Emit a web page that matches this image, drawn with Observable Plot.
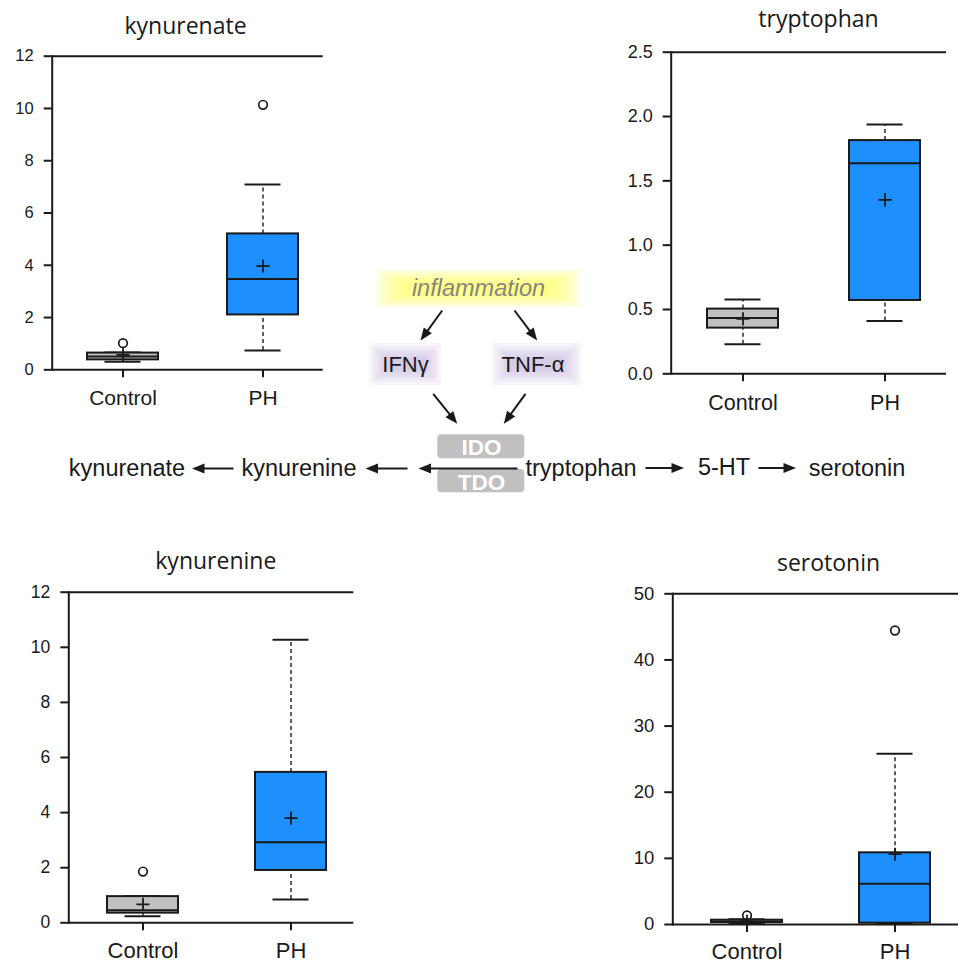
<!DOCTYPE html>
<html>
<head>
<meta charset="utf-8">
<script src="https://cdn.jsdelivr.net/npm/d3@7"></script>
<script src="https://cdn.jsdelivr.net/npm/@observablehq/plot@0.6"></script>
<style>
  body { margin: 0; background: #ffffff; }
  #chart { position: relative; width: 958px; height: 964px; overflow: hidden; background: #ffffff; }
</style>
</head>
<body>
<div id="chart"></div>
<script>
// ---------------- DATA ----------------
const categories = ["Control", "PH"];

// box summaries: whisker ends, quartiles, median, mean (+)
const kynurenateStats = [
  {group: "Control", whiskerLow: 0.31, q1: 0.38, median: 0.51, q3: 0.64, whiskerHigh: 0.66, mean: 0.57},
  {group: "PH",      whiskerLow: 0.74, q1: 2.10, median: 3.47, q3: 5.20, whiskerHigh: 7.09, mean: 3.97}
];
const kynurenateOutliers = [{group: "Control", value: 1.02}, {group: "PH", value: 10.14}];
const kynurenateTicks = [0, 2, 4, 6, 8, 10, 12];

const tryptophanStats = [
  {group: "Control", whiskerLow: 0.23, q1: 0.355, median: 0.433, q3: 0.503, whiskerHigh: 0.578, mean: 0.427},
  {group: "PH",      whiskerLow: 0.41, q1: 0.57,  median: 1.637, q3: 1.813, whiskerHigh: 1.938, mean: 1.352}
];
const tryptophanOutliers = [];
const tryptophanTicks = [0, 0.5, 1.0, 1.5, 2.0, 2.5];

const kynurenineStats = [
  {group: "Control", whiskerLow: 0.24, q1: 0.35, median: 0.46, q3: 0.95, whiskerHigh: 0.96, mean: 0.67},
  {group: "PH",      whiskerLow: 0.85, q1: 1.90, median: 2.92, q3: 5.46, whiskerHigh: 10.27, mean: 3.80}
];
const kynurenineOutliers = [{group: "Control", value: 1.86}];
const kynurenineTicks = [0, 2, 4, 6, 8, 10, 12];

const serotoninStats = [
  {group: "Control", whiskerLow: 0.1, q1: 0.3, median: 0.45, q3: 0.65, whiskerHigh: 0.8, mean: 0.5},
  {group: "PH",      whiskerLow: 0.1, q1: 0.2, median: 6.15, q3: 10.84, whiskerHigh: 25.8, mean: 10.63}
];
const serotoninOutliers = [{group: "Control", value: 1.36}, {group: "PH", value: 44.45}];
const serotoninTicks = [0, 10, 20, 30, 40, 50];

// pathway diagram (labels and their layout)
const pathwayNodes = [
  {label: "kynurenate", x: 126.5, y: 468},
  {label: "kynurenine", x: 298.5, y: 468},
  {label: "tryptophan", x: 580.5, y: 468},
  {label: "5-HT",       x: 723.5, y: 467},
  {label: "serotonin",  x: 856.5, y: 468}
];
const pathwayArrows = [
  {x1: 233, y1: 468, x2: 191.5, y2: 468},
  {x1: 407, y1: 468, x2: 365, y2: 468},
  {x1: 517, y1: 468, x2: 418, y2: 468},
  {x1: 645, y1: 467.5, x2: 683.5, y2: 467.5},
  {x1: 758, y1: 467.5, x2: 795.5, y2: 467.5}
];
const signalArrows = [
  {x1: 441.7, y1: 310, x2: 420, y2: 340},
  {x1: 514, y1: 310, x2: 536.7, y2: 340},
  {x1: 432.7, y1: 393.3, x2: 456.7, y2: 423.3},
  {x1: 525, y1: 393.3, x2: 503.3, y2: 423.3}
];
const trigger = [{label: "inflammation", x: 478, y: 287.5, x1: 376, x2: 580, y1: 270, y2: 307}];
const cytokines = [
  {label: "IFNγ",  x: 405,   y: 364, x1: 369, x2: 442, y1: 343, y2: 385},
  {label: "TNF-α", x: 532.5, y: 364, x1: 492, x2: 581, y1: 343, y2: 385}
];
const enzymes = [
  {label: "IDO", x: 481, y: 447.5, x1: 437.3, x2: 524.3, y1: 434.3, y2: 458.3},
  {label: "TDO", x: 481, y: 482.5, x1: 437.3, x2: 524.3, y1: 469,   y2: 492.3}
];

// ---------------- LAYOUT / STYLE ----------------
const ink = "#1a1a1a";
const boxColors = ["#c0c0c0", "#1e8fff"];
const sans = "'Liberation Sans', Arial, Helvetica, sans-serif";

// page regions for each separate svg (no overlap)
const regions = {
  kynurenate: {left: 0,   top: 0,   width: 345, height: 422},
  tryptophan: {left: 605, top: 0,   width: 353, height: 422},
  kynurenine: {left: 0,   top: 522, width: 380, height: 442},
  serotonin:  {left: 605, top: 522, width: 353, height: 442},
  diagramTop: {left: 345, top: 250, width: 260, height: 178},
  diagramRow: {left: 0,   top: 428, width: 958, height: 94}
};

// page coordinates of frame edges, group centres, titles
const layouts = {
  kynurenate: {left: 51.7, right: 322.7, top: 55.7, bottom: 369.3, ctrl: 122, ph: 262.7, titleX: 185, titleBase: 33.3, tickFont: 16.5, labelFont: 21, labelPad: 12.5},
  tryptophan: {left: 670.7, right: 946, top: 51.7, bottom: 373.3, ctrl: 742, ph: 884.7, titleX: 818, titleBase: 26, tickFont: 18, labelFont: 21.5, labelPad: 12.5},
  kynurenine: {left: 68.3, right: 353.3, top: 591.7, bottom: 922.3, ctrl: 142.3, ph: 290.3, titleX: 215.3, titleBase: 568.3, tickFont: 17.5, labelFont: 22, labelPad: 12},
  serotonin:  {left: 672.3, right: 958, top: 593.3, bottom: 924, ctrl: 746.3, ph: 894.3, titleX: 828, titleBase: 570.7, tickFont: 18.5, labelFont: 22, labelPad: 10.5}
};

function svgStyle(R) {
  return {position: "absolute", left: R.left + "px", top: R.top + "px", background: "transparent",
          overflow: "visible", color: ink, fontFamily: sans, maxWidth: "none"};
}

function boxPanel(title, stats, outliers, ticks, tickFormat, L, R) {
  const boxW = 71;
  const step = L.ph - L.ctrl;
  const yMax = d3.max(ticks);
  const dash = {stroke: ink, strokeWidth: 1.4, strokeDasharray: "4,3"};
  const cap = {stroke: ink, strokeWidth: 2, insetLeft: 17.5, insetRight: 17.5};
  return Plot.plot({
    width: R.width, height: R.height,
    marginLeft: L.left - R.left, marginRight: R.left + R.width - L.right,
    marginTop: L.top - R.top, marginBottom: R.top + R.height - L.bottom,
    style: svgStyle(R),
    x: {type: "band", domain: categories, range: [L.ctrl - R.left - boxW / 2, L.ph - R.left + boxW / 2],
        paddingInner: 1 - boxW / step, paddingOuter: 0, align: 0.5},
    y: {domain: [0, yMax]},
    color: {domain: categories, range: boxColors},
    marks: [
      Plot.ruleX(stats, {x: "group", y1: "whiskerLow", y2: "q1", ...dash}),
      Plot.ruleX(stats, {x: "group", y1: "q3", y2: "whiskerHigh", ...dash}),
      Plot.tickY(stats, {x: "group", y: "whiskerLow", ...cap}),
      Plot.tickY(stats, {x: "group", y: "whiskerHigh", ...cap}),
      Plot.barY(stats, {x: "group", y1: "q1", y2: "q3", fill: "group", stroke: ink, strokeWidth: 2}),
      Plot.tickY(stats, {x: "group", y: "median", stroke: ink, strokeWidth: 2}),
      Plot.dot(stats, {x: "group", y: "mean", symbol: "plus", r: 4.3, stroke: ink, strokeWidth: 1.8}),
      Plot.dot(outliers, {x: "group", y: "value", r: 4.3, stroke: ink, strokeWidth: 1.7, fill: "none"}),
      Plot.ruleY([0, yMax], {stroke: ink, strokeWidth: 2}),
      Plot.frame({anchor: "left", stroke: ink, strokeWidth: 2}),
      Plot.axisY({ticks, tickFormat, tickSize: 8, tickPadding: 10.5, fontSize: L.tickFont, stroke: ink, strokeWidth: 2, label: null}),
      Plot.axisX({tickSize: 8, tickPadding: L.labelPad, fontSize: L.labelFont, stroke: ink, strokeWidth: 2, label: null}),
      Plot.text([title], {frameAnchor: "top-left", dx: L.titleX - L.left, dy: L.titleBase - L.top, textAnchor: "middle", lineAnchor: "bottom",
        fontFamily: "'Open Sans', Lato, sans-serif", fontSize: 23, fill: ink})
    ]
  });
}

// filled arrow head, tip at the origin, pointing up before rotation
const arrowHead = {draw(ctx) { ctx.moveTo(0, 0); ctx.lineTo(5, 12.5); ctx.lineTo(-5, 12.5); ctx.closePath(); }};
const headAngle = (d) => Math.atan2(d.x2 - d.x1, -(d.y2 - d.y1)) * 180 / Math.PI;
const shaftEnd = (d, k) => {
  const len = Math.hypot(d.x2 - d.x1, d.y2 - d.y1);
  return k === "x" ? d.x2 - (d.x2 - d.x1) / len * 10 : d.y2 - (d.y2 - d.y1) / len * 10;
};

function glow(data, color, layers, hStep, vStep, opacity) {
  return d3.range(layers).map((k) => Plot.rect(data, {
    x1: "x1", x2: "x2", y1: "y1", y2: "y2",
    insetLeft: k * hStep, insetRight: k * hStep, insetTop: k * vStep, insetBottom: k * vStep,
    fill: color, fillOpacity: opacity
  }));
}

// the diagram uses page coordinates; each svg shows one region of the page
function diagramPart(R, marks) {
  return Plot.plot({
    width: R.width, height: R.height, margin: 0,
    style: svgStyle(R),
    x: {type: "linear", domain: [R.left, R.left + R.width], range: [0, R.width], axis: null},
    y: {type: "linear", domain: [R.top, R.top + R.height], range: [0, R.height], axis: null},
    marks
  });
}

function arrowMarks(arrows) {
  return [
    Plot.link(arrows, {x1: "x1", y1: "y1", x2: (d) => shaftEnd(d, "x"), y2: (d) => shaftEnd(d, "y"), stroke: ink, strokeWidth: 2}),
    Plot.dot(arrows, {x: "x2", y: "y2", symbol: arrowHead, rotate: headAngle, fill: ink, stroke: "none"})
  ];
}

const chart = document.getElementById("chart");

chart.append(diagramPart(regions.diagramTop, [
  ...glow(trigger, "#ffff55", 7, 5, 2.2, 0.16),
  ...glow(cytokines, "#b3a0d2", 7, 3, 2.6, 0.09),
  ...arrowMarks(signalArrows),
  Plot.text(trigger, {x: "x", y: "y", text: "label", fill: "#858585", fontStyle: "italic", fontSize: 23.5, fontFamily: sans}),
  Plot.text(cytokines, {x: "x", y: "y", text: "label", fill: ink, fontSize: 22, fontFamily: sans})
]));

chart.append(diagramPart(regions.diagramRow, [
  Plot.rect(enzymes, {x1: "x1", x2: "x2", y1: "y1", y2: "y2", rx: 4, fill: "#c0c0c0"}),
  Plot.text(enzymes, {x: "x", y: "y", text: "label", fill: "white", fontWeight: "bold", fontSize: 22.5, fontFamily: sans}),
  ...arrowMarks(pathwayArrows),
  Plot.text(pathwayNodes, {x: "x", y: "y", text: "label", fill: ink, fontSize: 23.5, fontFamily: sans})
]));

chart.append(boxPanel("kynurenate", kynurenateStats, kynurenateOutliers, kynurenateTicks, d3.format("d"), layouts.kynurenate, regions.kynurenate));
chart.append(boxPanel("tryptophan", tryptophanStats, tryptophanOutliers, tryptophanTicks, d3.format(".1f"), layouts.tryptophan, regions.tryptophan));
chart.append(boxPanel("kynurenine", kynurenineStats, kynurenineOutliers, kynurenineTicks, d3.format("d"), layouts.kynurenine, regions.kynurenine));
chart.append(boxPanel("serotonin", serotoninStats, serotoninOutliers, serotoninTicks, d3.format("d"), layouts.serotonin, regions.serotonin));
</script>
</body>
</html>
